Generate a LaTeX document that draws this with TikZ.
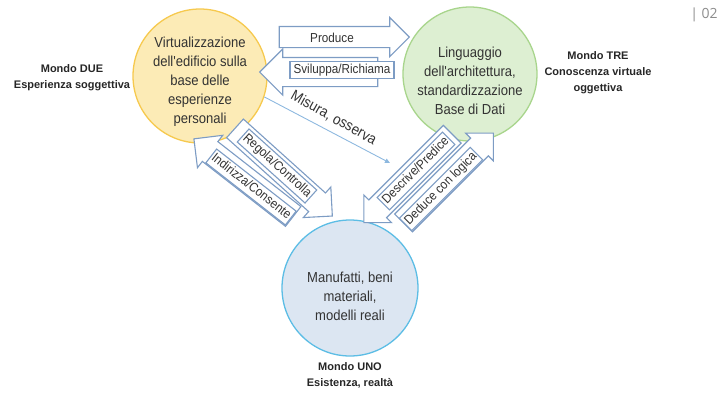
\documentclass[tikz,border=0pt]{standalone}
\usepackage{fontspec}
\setmainfont{Liberation Sans}
\newfontfamily\narrowsf[FakeStretch=0.9]{Liberation Sans}
\newfontfamily\pagesf{Open Sans}
\usepackage{tikz}
\usetikzlibrary{positioning}
\usetikzlibrary{shapes.arrows}
\usetikzlibrary{arrows.meta}
\usepackage{xcolor}

\definecolor{duefill}{HTML}{FCEBB6}
\definecolor{dueline}{HTML}{F6C94E}
\definecolor{trefill}{HTML}{DDEFD2}
\definecolor{treline}{HTML}{A8D58C}
\definecolor{unofill}{HTML}{DCE6F2}
\definecolor{unoline}{HTML}{5CBDE5}
\definecolor{arrline}{HTML}{7D9CC4}
\definecolor{misline}{HTML}{8DB8DF}
\definecolor{inktext}{HTML}{333333}

\begin{document}
\begin{tikzpicture}[x=1pt,y=-1pt,
        mondo/.style={circle, minimum size=#1, inner sep=0pt, line width=1.3pt},
        circtext/.style={align=center, text=inktext, font=\narrowsf\fontsize{14.5}{19}\selectfont},
        mondolabel/.style={align=center, text=black!85, font=\bfseries\fontsize{11}{16}\selectfont},
        blockarrow/.style={single arrow, draw=arrline, fill=white, line width=1.1pt,
            inner xsep=0pt, inner ysep=#1, text height=0pt, text depth=0pt},
        arrtext/.style={text=inktext, font=\narrowsf\fontsize{13}{15}\selectfont,
            text height=9pt, text depth=2.5pt, inner xsep=2pt, inner ysep=3pt},
        arrbox/.style={arrtext, draw=arrline, fill=white, line width=1.1pt}]
    \useasboundingbox (0,0) rectangle (721,392);

    % i tre mondi
    \node[mondo=134pt, fill=duefill, draw=dueline] (due) at (200,76) {};
    \node[mondo=134pt, fill=trefill, draw=treline] (tre) at (470,74) {};
    \node[mondo=136pt, fill=unofill, draw=unoline] (uno) at (350,288) {};
    \node[circtext] (dueT) at (200,82) {Virtualizzazione\\dell'edificio sulla\\base delle\\esperienze\\personali};
    \node[circtext] (treT) at (470,80.5) {Linguaggio\\dell'architettura,\\standardizzazione\\Base di Dati};
    \node[circtext] (unoT) at (350,296) {Manufatti, beni\\materiali,\\modelli reali};

    \node[mondolabel] (dueL) at (72,78) {Mondo DUE\\Esperienza soggettiva};
    \node[mondolabel] (treL) at (598,73) {Mondo TRE\\Conoscenza virtuale\\oggettiva};
    \node[mondolabel] (unoL) at (350,375) {Mondo UNO\\Esistenza, realt\`a};

    % frecce in alto
    \node[blockarrow=14pt, single arrow head extend=8.5pt, shape border rotate=180,
        minimum height=118pt] (svil) at (326,72) {};
    \node[blockarrow=10pt, single arrow head extend=9pt,
        minimum height=130pt] (prod) at (339,37) {};
    \node[arrtext] (prodT) at (332,39) {Produce};
    \node[arrbox, minimum width=104pt] (svilT) at (342,70) {Sviluppa/Richiama};

    % frecce a sinistra
    \node[blockarrow=12pt, single arrow head extend=8pt, shape border rotate=180,
        minimum height=126pt, rotate=-38] (indi) at (248.5,181.5) {};
    \node[blockarrow=12pt, single arrow head extend=8pt,
        minimum height=131pt, rotate=-42] (rego) at (279,168) {};
    \node[arrbox, rotate=-42] (regoT) at (277,166) {Regola/Controlla};
    \node[arrbox, rotate=-38] (indiT) at (251,187) {Indirizza/Consente};

    % frecce a destra
    \node[blockarrow=12pt, single arrow head extend=7pt, shape border rotate=180,
        minimum height=125pt, rotate=45] (desc) at (412.5,174) {};
    \node[blockarrow=12pt, single arrow head extend=7pt,
        minimum height=127pt, rotate=45] (dedu) at (444,182.5) {};
    \node[arrbox, rotate=45] (descT) at (416,171) {Descrive/Predice};
    \node[arrbox, rotate=45] (deduT) at (441,189) {Deduce con logica};

    % misura
    \coordinate (misEnd) at (390,163);
    \draw[misline, line width=0.9pt, -{Triangle[length=5pt,width=4.5pt]}] (due.-18) -- (misEnd);
    \node[arrtext, font=\narrowsf\fontsize{15}{17}\selectfont, rotate=-29] (misT) at (333,119) {Misura, osserva};

    \node[text=black!45, font=\pagesf\fontsize{14}{16}\selectfont] (pag) at (704,15) {| 02};
\end{tikzpicture}
\end{document}
